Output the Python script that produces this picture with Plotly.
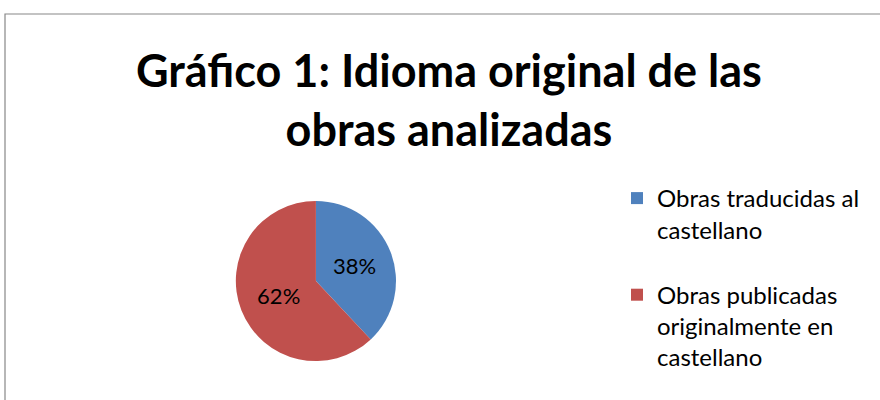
import plotly.graph_objects as go

categories = ["Obras traducidas al castellano", "Obras publicadas originalmente en castellano"]
legend_text = ["Obras traducidas al<br>castellano<br> ", "Obras publicadas<br>originalmente en<br>castellano"]
values = [38, 62]
colors = ["#4F81BD", "#C0504D"]
title_text = "<b>Gráfico 1: Idioma original de las<br>obras analizadas</b>"

W, H = 880, 400
FONT = "Lato, Noto Sans, sans-serif"

fig = go.Figure()
fig.add_trace(go.Pie(
    labels=legend_text,
    values=values,
    customdata=categories,
    hovertemplate="%{customdata}: %{percent}<extra></extra>",
    sort=False,
    direction="clockwise",
    rotation=0,
    marker=dict(colors=colors),
    textinfo="percent",
    textposition="inside",
    insidetextorientation="horizontal",
    textfont=dict(family=FONT, size=22, color="black"),
    domain=dict(x=[0.268, 0.45], y=[1 - 362 / H, 1 - 200 / H]),
    showlegend=True,
))

fig.add_shape(type="rect", xref="paper", yref="paper",
              x0=5 / W, x1=1.02, y0=-0.02, y1=1 - 14 / H,
              line=dict(color="#888888", width=1.2), fillcolor="rgba(0,0,0,0)", layer="below")

fig.add_annotation(
    text=title_text, xref="paper", yref="paper",
    x=449 / W, xanchor="center", y=1 - 99 / H, yanchor="middle",
    showarrow=False, align="center",
    font=dict(family=FONT, size=45, color="black"),
)

fig.update_layout(
    width=W, height=H,
    margin=dict(l=0, r=0, t=0, b=0),
    paper_bgcolor="white",
    plot_bgcolor="white",
    legend=dict(
        x=617 / W, xanchor="left",
        y=1 - 176 / H, yanchor="top",
        font=dict(family=FONT, size=24, color="black"),
        valign="top",
        itemwidth=30,
        bgcolor="rgba(0,0,0,0)",
    ),
)

fig.write_html("out.html", post_script="document.body.style.margin='0';",
               config={"displayModeBar": False})
